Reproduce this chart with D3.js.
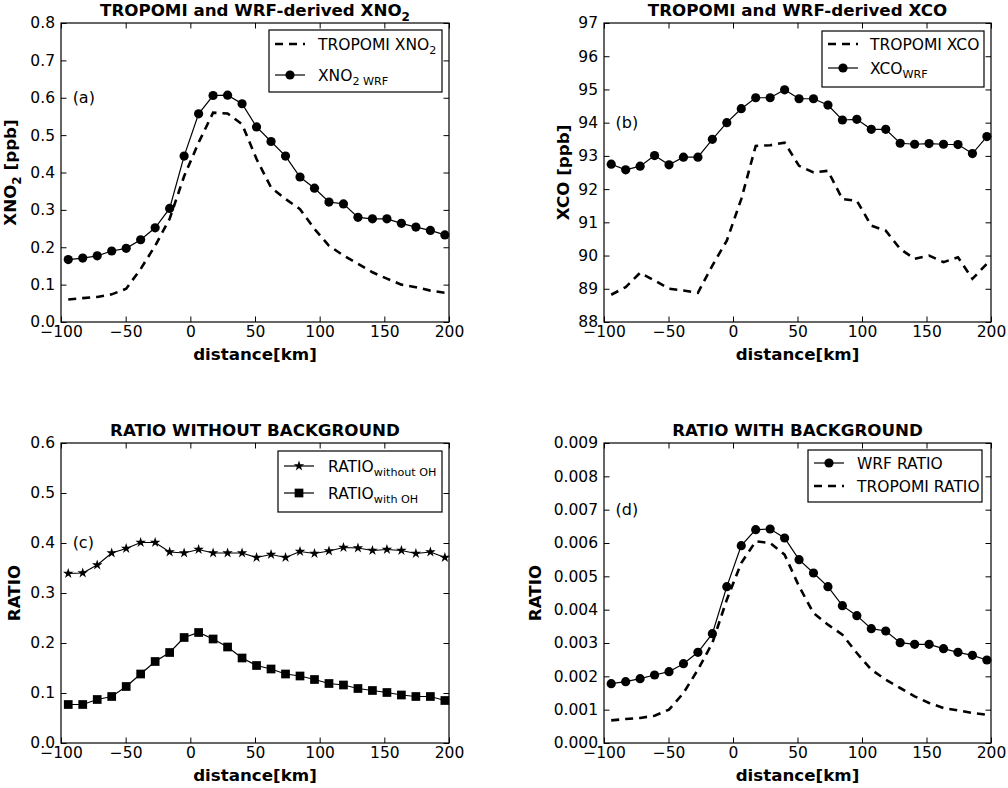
<!DOCTYPE html>
<html>
<head>
<meta charset="utf-8">
<script src="https://cdn.jsdelivr.net/npm/d3@7"></script>
<style>
body {margin: 0; background: #fff;}
text {font-family: "DejaVu Sans", sans-serif; fill: #000;}
</style>
</head>
<body>
<script>
// distance along the plume [km]
var distance = [-94.4, -83.2, -72.0, -60.8, -49.6, -38.4, -27.2, -16.0, -4.8, 6.4, 17.6, 28.8, 40.0,
  51.2, 62.4, 73.6, 84.8, 96.0, 107.2, 118.4, 129.6, 140.8, 152.0, 163.2, 174.4, 185.6, 196.8];

// (a) XNO2 [ppb]
var tropomiXno2 = [0.060, 0.064, 0.067, 0.074, 0.089, 0.142, 0.204, 0.276, 0.390, 0.480, 0.560, 0.558, 0.529,
  0.436, 0.360, 0.329, 0.302, 0.249, 0.204, 0.178, 0.156, 0.133, 0.116, 0.100, 0.093, 0.084, 0.078];
var wrfXno2 = [0.167, 0.171, 0.177, 0.190, 0.197, 0.220, 0.252, 0.304, 0.444, 0.557, 0.606, 0.607, 0.584,
  0.522, 0.483, 0.444, 0.388, 0.358, 0.321, 0.316, 0.280, 0.276, 0.276, 0.264, 0.254, 0.245, 0.233];

// (b) XCO [ppb]
var tropomiXco = [88.82, 89.05, 89.48, 89.25, 89.00, 88.95, 88.88, 89.70, 90.45, 91.70, 93.30, 93.32, 93.40,
  92.70, 92.50, 92.55, 91.70, 91.65, 90.90, 90.75, 90.20, 89.90, 90.00, 89.80, 89.95, 89.30, 89.75];
var wrfXco = [92.75, 92.58, 92.69, 93.01, 92.73, 92.96, 92.96, 93.50, 94.00, 94.42, 94.75, 94.75, 94.99,
  94.72, 94.72, 94.53, 94.08, 94.10, 93.80, 93.80, 93.38, 93.35, 93.37, 93.35, 93.34, 93.07, 93.58];

// (c) ratio without background
var ratioWithoutOH = [0.339, 0.340, 0.356, 0.380, 0.389, 0.401, 0.401, 0.382, 0.380, 0.387, 0.380, 0.380, 0.380,
  0.371, 0.377, 0.371, 0.383, 0.379, 0.384, 0.391, 0.390, 0.385, 0.387, 0.385, 0.379, 0.382, 0.371];
var ratioWithOH = [0.077, 0.077, 0.087, 0.093, 0.113, 0.138, 0.163, 0.181, 0.211, 0.221, 0.208, 0.192, 0.170,
  0.155, 0.148, 0.138, 0.134, 0.127, 0.119, 0.116, 0.109, 0.105, 0.101, 0.096, 0.093, 0.093, 0.085];

// (d) ratio with background
var wrfRatio = [0.00178, 0.00184, 0.00193, 0.00204, 0.00214, 0.00238, 0.00272, 0.00328, 0.00469, 0.00592,
  0.00640, 0.00642, 0.00615, 0.00550, 0.00510, 0.00469, 0.00412, 0.00382, 0.00343, 0.00336, 0.00301,
  0.00296, 0.00296, 0.00283, 0.00272, 0.00263, 0.00249];
var tropomiRatio = [0.00068, 0.00072, 0.00075, 0.00082, 0.00100, 0.00150, 0.00220, 0.00300, 0.00430, 0.00540,
  0.00605, 0.00600, 0.00565, 0.00470, 0.00390, 0.00355, 0.00325, 0.00270, 0.00220, 0.00190, 0.00165,
  0.00140, 0.00120, 0.00105, 0.00098, 0.00090, 0.00085];

var xTicks = [-100, -50, 0, 50, 100, 150, 200];
var yTicksA = [0, 0.1, 0.2, 0.3, 0.4, 0.5, 0.6, 0.7, 0.8];
var yTicksB = [88, 89, 90, 91, 92, 93, 94, 95, 96, 97];
var yTicksC = [0, 0.1, 0.2, 0.3, 0.4, 0.5, 0.6];
var yTicksD = [0, 0.001, 0.002, 0.003, 0.004, 0.005, 0.006, 0.007, 0.008, 0.009];

var svg = d3.select('body').append('svg')
  .attr('width', 1008)
  .attr('height', 788);

var tick = 5.5;
var tickFont = 15.5;
var labelFont = 16.7;
var legendFont = 15.5;

function richText(sel, parts, size) {
  // parts: [text, subscript, text, ...]
  parts.forEach(function(p, i) {
    if (p === '') return;
    var t = sel.append('tspan').text(p);
    if (i % 2 === 1) {
      t.attr('font-size', size * 0.72).attr('dy', size * 0.3);
    } else if (i > 0) {
      t.attr('dy', -size * 0.3);
    }
  });
}

function drawMarker(g, kind, cx, cy) {
  if (kind === 'circle') {
    g.append('circle').attr('cx', cx).attr('cy', cy).attr('r', 4.6).style('fill', '#000');
  } else if (kind === 'square') {
    g.append('path').attr('d', d3.symbol(d3.symbolSquare, 76)())
      .attr('transform', 'translate(' + cx + ',' + cy + ')').style('fill', '#000');
  } else if (kind === 'star') {
    g.append('path').attr('d', d3.symbol(d3.symbolStar, 34)())
      .attr('transform', 'translate(' + cx + ',' + cy + ')').style('fill', '#000');
  }
}

function drawPanel(p) {
  var x = d3.scaleLinear().domain([-100, 200]).range([p.left, p.right]);
  var y = d3.scaleLinear().domain([p.yTicks[0], p.yTicks[p.yTicks.length - 1]]).range([p.bottom, p.top]);
  var g = svg.append('g');

  // ticks on all four sides, pointing inside
  g.append('g')
    .attr('transform', 'translate(0,' + p.bottom + ')')
    .call(d3.axisBottom(x).tickValues(xTicks).tickSize(-tick).tickPadding(4).tickFormat(d3.format('d')));
  g.append('g')
    .attr('transform', 'translate(0,' + p.top + ')')
    .call(d3.axisTop(x).tickValues(xTicks).tickSize(-tick).tickFormat(''));
  g.append('g')
    .attr('transform', 'translate(' + p.left + ',0)')
    .call(d3.axisLeft(y).tickValues(p.yTicks).tickSize(-tick).tickPadding(6).tickFormat(d3.format(p.fmt)));
  g.append('g')
    .attr('transform', 'translate(' + p.right + ',0)')
    .call(d3.axisRight(y).tickValues(p.yTicks).tickSize(-tick).tickFormat(''));
  g.selectAll('.domain').remove();
  g.selectAll('.tick line').style('stroke', '#000').style('stroke-width', 1);
  g.selectAll('.tick text')
    .style('font-family', '"DejaVu Sans", sans-serif')
    .style('font-size', tickFont + 'px')
    .style('fill', '#000');

  g.append('rect')
    .attr('x', p.left).attr('y', p.top)
    .attr('width', p.right - p.left).attr('height', p.bottom - p.top)
    .style('fill', 'none').style('stroke', '#000').style('stroke-width', 1.2);

  // series
  p.series.forEach(function(s) {
    var pts = distance.map(function(d, i) { return [d, s.values[i]]; });
    var line = d3.line().x(function(d) { return x(d[0]); }).y(function(d) { return y(d[1]); });
    g.append('path')
      .attr('d', line(pts))
      .style('fill', 'none')
      .style('stroke', '#000')
      .style('stroke-width', s.dashed ? 2.6 : 1.2)
      .style('stroke-dasharray', s.dashed ? '8,6' : null);
    if (s.marker) {
      pts.forEach(function(d) { drawMarker(g, s.marker, x(d[0]), y(d[1])); });
    }
  });

  // title
  var title = g.append('text')
    .attr('x', (p.left + p.right) / 2).attr('y', p.top - 7)
    .attr('text-anchor', 'middle')
    .style('font-size', labelFont + 'px').style('font-weight', 'bold');
  richText(title, p.title, labelFont);

  // x label
  g.append('text')
    .attr('x', (p.left + p.right) / 2).attr('y', p.bottom + 38)
    .attr('text-anchor', 'middle')
    .style('font-size', labelFont + 'px').style('font-weight', 'bold')
    .text('distance[km]');

  // y label
  var yl = g.append('text')
    .attr('transform', 'translate(' + p.ylabelX + ',' + ((p.top + p.bottom) / 2) + ') rotate(-90)')
    .attr('text-anchor', 'middle')
    .style('font-size', labelFont + 'px').style('font-weight', 'bold');
  richText(yl, p.ylabel, labelFont);

  // panel letter
  g.append('text')
    .attr('x', x(-91)).attr('y', y(p.letterY) + 5)
    .style('font-size', '16px')
    .text(p.letter);

  // legend
  var L = p.legend;
  var lg = g.append('g');
  lg.append('rect')
    .attr('x', L.x).attr('y', L.y).attr('width', L.w).attr('height', L.h)
    .style('fill', '#fff').style('stroke', '#000').style('stroke-width', 1.2);
  L.items.forEach(function(it, i) {
    var cy = L.rows[i];
    lg.append('line')
      .attr('x1', L.x + 6).attr('x2', L.x + 36).attr('y1', cy).attr('y2', cy)
      .style('stroke', '#000')
      .style('stroke-width', it.dashed ? 2.6 : 1.2)
      .style('stroke-dasharray', it.dashed ? '8,6' : null);
    if (it.marker) drawMarker(lg, it.marker, L.x + 21, cy);
    var t = lg.append('text')
      .attr('x', L.x + L.tx).attr('y', cy + 5.5)
      .style('font-size', legendFont + 'px');
    richText(t, it.label, legendFont);
  });
}

var panels = [
  {
    left: 61, right: 449, top: 23, bottom: 322,
    yTicks: yTicksA, fmt: '.1f',
    title: ['TROPOMI and WRF-derived XNO', '2'],
    ylabel: ['XNO', '2', ' [ppb]'], ylabelX: 16,
    letter: '(a)', letterY: 0.6,
    series: [
      {values: tropomiXno2, dashed: true},
      {values: wrfXno2, marker: 'circle'}
    ],
    legend: {x: 269, y: 30, w: 173, h: 62, rows: [44, 75], tx: 49,
      items: [
        {dashed: true, label: ['TROPOMI XNO', '2']},
        {marker: 'circle', label: ['XNO', '2 WRF']}
      ]}
  },
  {
    left: 604, right: 991, top: 23, bottom: 322,
    yTicks: yTicksB, fmt: 'd',
    title: ['TROPOMI and WRF-derived XCO'],
    ylabel: ['XCO [ppb]'], ylabelX: 569,
    letter: '(b)', letterY: 94,
    series: [
      {values: tropomiXco, dashed: true},
      {values: wrfXco, marker: 'circle'}
    ],
    legend: {x: 822, y: 31, w: 162, h: 56, rows: [44, 68], tx: 48,
      items: [
        {dashed: true, label: ['TROPOMI XCO']},
        {marker: 'circle', label: ['XCO', 'WRF']}
      ]}
  },
  {
    left: 61, right: 449, top: 443, bottom: 743,
    yTicks: yTicksC, fmt: '.1f',
    title: ['RATIO WITHOUT BACKGROUND'],
    ylabel: ['RATIO'], ylabelX: 20,
    letter: '(c)', letterY: 0.4,
    series: [
      {values: ratioWithoutOH, marker: 'star'},
      {values: ratioWithOH, marker: 'square'}
    ],
    legend: {x: 278, y: 451, w: 164, h: 61, rows: [466, 493], tx: 50,
      items: [
        {marker: 'star', label: ['RATIO', 'without OH']},
        {marker: 'square', label: ['RATIO', 'with OH']}
      ]}
  },
  {
    left: 604, right: 991, top: 443, bottom: 743,
    yTicks: yTicksD, fmt: '.3f',
    title: ['RATIO WITH BACKGROUND'],
    ylabel: ['RATIO'], ylabelX: 541,
    letter: '(d)', letterY: 0.007,
    series: [
      {values: wrfRatio, marker: 'circle'},
      {values: tropomiRatio, dashed: true}
    ],
    legend: {x: 808, y: 450, w: 174, h: 52, rows: [463, 486], tx: 49,
      items: [
        {marker: 'circle', label: ['WRF RATIO']},
        {dashed: true, label: ['TROPOMI RATIO']}
      ]}
  }
];

panels.forEach(drawPanel);
</script>
</body>
</html>
